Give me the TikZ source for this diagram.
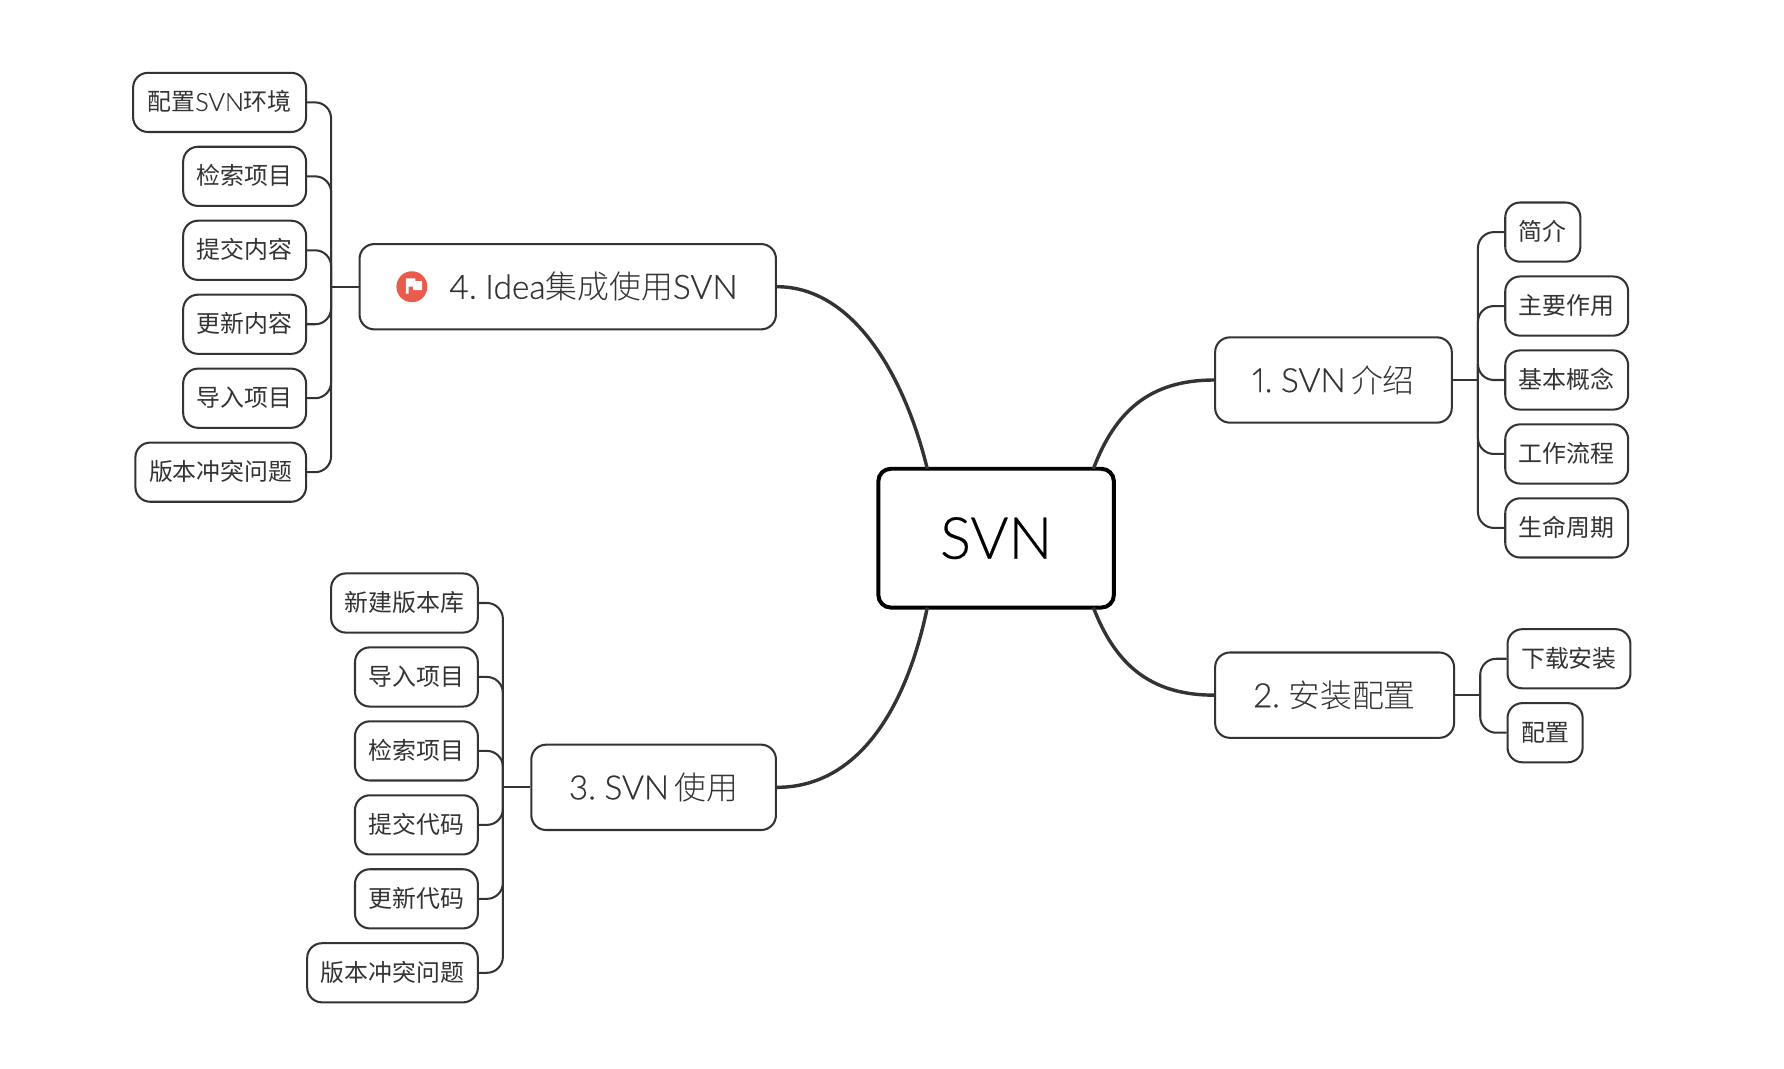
\documentclass[tikz,border=0pt]{standalone}
\usepackage{fontspec}
\setmainfont[WordSpace=0.6,Scale=1.05,FakeBold=0.4,Numbers=Proportional]{Lato Light}
\newfontfamily\zhfont{Noto Sans CJK SC Light}
\newfontfamily\zhreg{Noto Sans CJK SC}
\newcommand{\zh}[1]{{\zhfont #1}}
\newcommand{\zr}[1]{{\zhreg #1}}
\definecolor{ink}{HTML}{333333}
\definecolor{flagred}{HTML}{E95B4B}
\begin{document}
\begin{tikzpicture}[x=1pt,y=-1pt,
  rootbox/.style={draw=black,line width=3.5pt,rounded corners=11pt,fill=white,minimum width=207pt,minimum height=122pt,inner sep=0pt,font=\fontsize{48.5}{60}\selectfont,text=black},
  mainbox/.style={draw=ink,line width=1.8pt,rounded corners=13pt,fill=white,minimum height=75pt,inner sep=0pt,font=\fontsize{28}{34}\selectfont,text=ink},
  leafbox/.style={draw=ink,line width=1.8pt,rounded corners=13pt,fill=white,minimum height=52pt,inner sep=0pt,text height=19pt,text depth=4pt,font=\fontsize{21}{26}\selectfont,text=ink},
  thick link/.style={draw=ink,line width=3pt},
  thin link/.style={draw=ink,line width=1.8pt,rounded corners=14pt}]
\useasboundingbox (0,0) rectangle (1568,938.7);
% curved branches
\coordinate (r1) at (961,412);
\coordinate (r2) at (961,534);
\coordinate (r3) at (815,534);
\coordinate (r4) at (815,412);
\coordinate (j1) at (1299,334);
\coordinate (j2) at (1301,611);
\coordinate (j3) at (442,692);
\coordinate (j4) at (291,252);
% nodes
\node[rootbox] (root) at (875.5,473) {SVN};
\node[mainbox,minimum width=208pt] (m1) at (1172,334) {1. SVN \zh{介绍}};
\node[mainbox,minimum width=210pt] (m2) at (1173,611) {2. \zh{安装配置}};
\node[mainbox,minimum width=215pt] (m3) at (574.5,692) {3. SVN \zh{使用}};
\node[mainbox,minimum width=366pt] (m4) at (499,252) {\hspace*{45pt}4. Idea\zh{集成使用}SVN};
% flag icon
\fill[flagred] (362,252) circle (13.6pt);
\fill[white] (356.7,244.7) -- (365,244.7) -- (365,247) -- (371,247) -- (371,255) -- (363,255) -- (363,252) -- (359.2,252) -- (359.2,258) -- (356.7,258) -- cycle;
% leaves of 1
\node[leafbox,minimum width=66pt] (a1) at (1356,204) {\zr{简介}};
\node[leafbox,minimum width=108pt] (a2) at (1377,269) {\zr{主要作用}};
\node[leafbox,minimum width=108pt] (a3) at (1377,334) {\zr{基本概念}};
\node[leafbox,minimum width=108pt] (a4) at (1377,399) {\zr{工作流程}};
\node[leafbox,minimum width=108pt] (a5) at (1377,464) {\zr{生命周期}};
% leaves of 2
\node[leafbox,minimum width=108pt] (b1) at (1379,579) {\zr{下载安装}};
\node[leafbox,minimum width=66pt] (b2) at (1358,644) {\zr{配置}};
% leaves of 3
\node[leafbox,minimum width=129pt] (c1) at (355.5,530) {\zr{新建版本库}};
\node[leafbox,minimum width=108pt] (c2) at (366,595) {\zr{导入项目}};
\node[leafbox,minimum width=108pt] (c3) at (366,660) {\zr{检索项目}};
\node[leafbox,minimum width=108pt] (c4) at (366,725) {\zr{提交代码}};
\node[leafbox,minimum width=108pt] (c5) at (366,790) {\zr{更新代码}};
\node[leafbox,minimum width=150pt] (c6) at (345,855) {\zr{版本冲突问题}};
% leaves of 4
\node[leafbox,minimum width=152pt] (d1) at (193,90) {\zr{配置}SVN\zr{环境}};
\node[leafbox,minimum width=108pt] (d2) at (215,155) {\zr{检索项目}};
\node[leafbox,minimum width=108pt] (d3) at (215,220) {\zr{提交内容}};
\node[leafbox,minimum width=108pt] (d4) at (215,285) {\zr{更新内容}};
\node[leafbox,minimum width=108pt] (d5) at (215,350) {\zr{导入项目}};
\node[leafbox,minimum width=150pt] (d6) at (194,415) {\zr{版本冲突问题}};
% thick links
\draw[thick link] (m1.west) .. controls (1010,334) and (980,362) .. (r1);
\draw[thick link] (m2.west) .. controls (1010,611) and (980,583) .. (r2);
\draw[thick link] (m3.east) .. controls (750,692) and (795,630) .. (r3);
\draw[thick link] (m4.east) .. controls (750,252) and (795,330) .. (r4);
% thin links
\foreach \n in {a1,a2,a3,a4,a5} \draw[thin link] (\n.west) -| (j1);
\draw[thin link] (m1.east) -- (j1);
\foreach \n in {b1,b2} \draw[thin link] (\n.west) -| (j2);
\draw[thin link] (m2.east) -- (j2);
\foreach \n in {c1,c2,c3,c4,c5,c6} \draw[thin link] (\n.east) -| (j3);
\draw[thin link] (m3.west) -- (j3);
\foreach \n in {d1,d2,d3,d4,d5,d6} \draw[thin link] (\n.east) -| (j4);
\draw[thin link] (m4.west) -- (j4);
\end{tikzpicture}
\end{document}
